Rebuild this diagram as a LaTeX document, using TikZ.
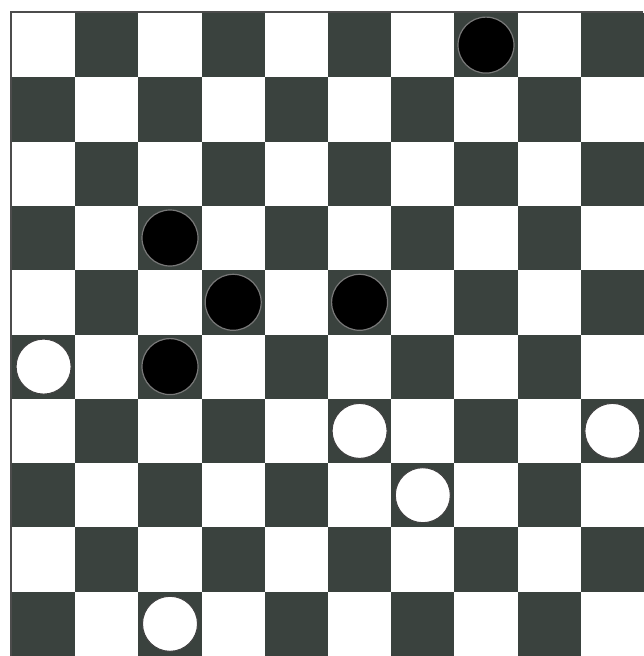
\documentclass[tikz,border=0pt]{standalone}
\definecolor{darksq}{RGB}{58,66,62}
\definecolor{halo}{RGB}{120,120,120}
\begin{document}
\begin{tikzpicture}[x=1pt,y=-1pt,
  blackpiece/.style={fill=black,draw=halo,line width=1.2pt},
  whitepiece/.style={fill=white,draw=black!75,line width=1pt}]
\useasboundingbox (0,0) rectangle (643,656);
\fill[white] (0,0) rectangle (643,656);
\foreach \r in {0,...,9}{
  \foreach \c in {0,...,9}{
    \pgfmathtruncatemacro{\sqparity}{mod(\r+\c,2)}
    \ifnum\sqparity=1
      \fill[darksq] ({12+63.2*\c},{13+64.3*\r}) rectangle ++(63.2,64.3);
    \fi
  }
}
\draw[line width=1.2pt,black!70] (11,656) -- (11,12) -- (643,12);
\foreach \r/\c in {0/7,3/2,4/3,4/5,5/2}{
  \path[blackpiece] ({12+63.2*\c+31.6},{13+64.3*\r+32.1}) circle (28);
}
\foreach \r/\c in {5/0,6/5,6/9,7/6,9/2}{
  \path[whitepiece] ({12+63.2*\c+31.6},{13+64.3*\r+32.1}) circle (27.5);
}
\end{tikzpicture}
\end{document}
